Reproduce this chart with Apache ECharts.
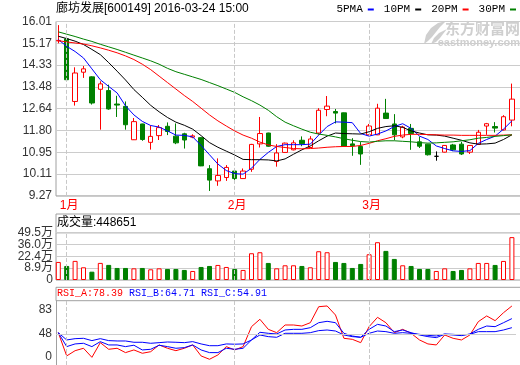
<!DOCTYPE html>
<html><head><meta charset="utf-8">
<script src="https://cdn.jsdelivr.net/npm/echarts@6/dist/echarts.min.js"></script>
<style>html,body{margin:0;padding:0;background:#fff}#c{width:520px;height:365px}</style>
</head><body><div id="c"></div>
<script>
const categories = ['2015-12-31',
 '2016-01-04','2016-01-05','2016-01-06','2016-01-07','2016-01-08','2016-01-11','2016-01-12','2016-01-13','2016-01-14','2016-01-15',
 '2016-01-18','2016-01-19','2016-01-20','2016-01-21','2016-01-22','2016-01-25','2016-01-26','2016-01-27','2016-01-28','2016-01-29',
 '2016-02-01','2016-02-02','2016-02-03','2016-02-04','2016-02-05','2016-02-15','2016-02-16','2016-02-17','2016-02-18','2016-02-19',
 '2016-02-22','2016-02-23','2016-02-24','2016-02-25','2016-02-26','2016-02-29',
 '2016-03-01','2016-03-02','2016-03-03','2016-03-04','2016-03-07','2016-03-08','2016-03-09','2016-03-10','2016-03-11',
 '2016-03-14','2016-03-15','2016-03-16','2016-03-17','2016-03-18','2016-03-21','2016-03-22','2016-03-23','2016-03-24'];
const monthLabels = {'2016-01-04':'1月','2016-02-01':'2月','2016-03-01':'3月'};
const open  = [15.26,15.34,12.92,14.05,13.87,13.39,13.34,12.82,12.73,11.44,12.05,11.34,11.60,11.96,11.58,11.67,11.54,11.52,10.32,9.85,9.98,10.23,9.94,10.30,11.28,11.70,10.60,10.95,11.05,11.42,11.14,11.70,12.61,12.53,12.48,11.28,11.18,11.63,11.63,12.47,12.05,11.55,11.88,11.36,11.27,10.80,10.96,11.24,11.27,10.96,11.26,11.97,11.95,11.82,12.20];
const close = [15.28,13.76,14.02,14.18,12.86,13.60,12.63,12.78,12.02,12.14,11.45,11.57,11.91,11.76,11.32,11.43,11.59,10.43,9.88,10.06,10.37,9.94,10.23,11.26,11.68,11.19,10.93,11.31,11.32,11.29,11.47,12.58,12.74,12.47,11.19,11.21,10.89,11.97,12.66,12.26,11.63,11.93,11.68,11.19,10.86,10.80,11.22,11.05,10.89,11.22,11.73,12.06,11.89,12.33,13.01];
const low   = [15.17,13.74,12.76,13.83,12.80,11.83,12.60,12.32,11.83,11.43,11.40,11.06,11.43,11.62,11.27,11.10,11.50,10.42,9.46,9.66,9.85,9.81,9.93,10.20,11.14,11.17,10.40,10.94,11.03,11.19,11.13,11.64,12.35,12.07,11.18,10.82,10.47,11.62,11.62,12.25,11.42,11.50,11.05,11.12,10.83,10.63,10.95,11.00,10.85,10.89,11.25,11.63,11.72,11.80,11.96];
const high  = [15.87,15.36,14.24,14.29,13.89,13.70,13.57,13.14,12.92,12.28,12.06,11.99,12.01,12.11,12.07,11.71,11.65,11.54,10.46,10.72,10.46,10.29,10.33,11.28,12.32,11.71,11.27,11.33,11.42,11.57,11.58,12.66,13.13,12.63,12.49,11.50,11.35,12.05,12.83,13.02,12.43,11.98,12.05,11.56,11.28,10.99,11.23,11.28,11.36,11.23,11.82,12.09,12.12,12.39,13.61];
const ma5  = [15.31,15.05,14.85,14.60,14.18,13.76,13.50,13.25,12.75,12.40,12.15,11.99,11.93,11.78,11.62,11.61,11.55,11.22,10.86,10.50,10.25,10.13,10.11,10.34,10.68,10.95,11.18,11.25,11.25,11.25,11.27,11.62,11.95,12.13,12.12,12.10,11.68,11.58,11.66,11.78,11.95,12.06,11.88,11.58,11.45,11.20,11.10,11.01,10.99,11.02,11.30,11.45,11.58,11.85,12.17];
const ma10 = [15.44,15.35,15.25,15.12,14.93,14.73,14.42,14.09,13.75,13.38,13.08,12.77,12.52,12.30,12.12,12.00,11.85,11.60,11.33,11.15,11.00,10.85,10.68,10.67,10.67,10.66,10.62,10.70,10.88,11.05,11.20,11.40,11.58,11.70,11.68,11.67,11.66,11.75,11.88,11.95,11.98,11.92,11.78,11.70,11.63,11.62,11.58,11.50,11.42,11.32,11.27,11.28,11.31,11.45,11.63];
const ma20 = [15.27,15.22,15.18,15.14,15.07,14.99,14.90,14.80,14.68,14.54,14.36,14.15,13.90,13.65,13.40,13.15,12.92,12.66,12.40,12.17,11.97,11.78,11.62,11.50,11.35,11.24,11.18,11.14,11.10,11.09,11.10,11.12,11.15,11.17,11.18,11.18,11.22,11.30,11.40,11.48,11.57,11.62,11.65,11.65,11.64,11.63,11.62,11.62,11.61,11.61,11.61,11.61,11.61,11.62,11.63];
const ma30 = [15.61,15.52,15.43,15.33,15.24,15.13,15.03,14.93,14.82,14.71,14.60,14.49,14.36,14.20,14.07,13.97,13.87,13.77,13.65,13.53,13.40,13.27,13.10,12.95,12.78,12.58,12.33,12.12,11.98,11.85,11.73,11.66,11.61,11.55,11.48,11.42,11.37,11.35,11.38,11.40,11.40,11.38,11.36,11.33,11.31,11.32,11.34,11.36,11.40,11.44,11.50,11.53,11.57,11.60,11.63];
const volume = [18.9,14.7,20.0,13.3,8.7,17.9,15.8,12.6,12.6,12.2,12.6,11.2,12.2,11.55,11.55,10.5,9.45,13.65,14.7,15.75,13.65,11.55,10.5,28.0,29.05,17.85,12.2,15.4,15.4,14.7,13.3,30.1,29.05,18.9,17.85,12.6,16.8,26.95,39.55,30.45,22.05,15.4,14.7,11.55,11.55,9.45,12.2,9.45,10.5,12.2,17.85,17.85,15.75,19.95,44.8651];
const rsiA = [49.5,24.3,30.0,32.6,22.8,38.7,31.5,32.6,27.9,30.8,27.2,28.9,36.2,32.6,30.0,32.6,36.2,24.3,20.7,25.4,34.4,30.8,34.4,56.0,64.0,53.1,49.5,57.8,57.8,56.7,60.3,77.6,78.4,68.6,43.4,42.3,38.7,56.0,66.1,60.3,49.5,53.1,48.8,41.6,37.3,36.2,47.0,43.4,41.6,47.0,61.4,67.6,62.5,71.1,78.39];
const rsiB = [49.5,34.4,37.3,38.0,34.4,39.8,36.2,36.2,34.4,35.9,30.8,31.5,35.9,34.4,32.6,33.3,36.2,30.8,27.9,27.9,32.6,31.5,32.6,41.6,49.9,48.8,48.1,52.4,53.1,53.1,54.9,60.3,61.8,60.3,48.8,45.9,44.5,53.1,58.5,56.7,50.6,52.4,49.5,47.0,45.2,44.1,47.7,47.0,46.3,48.1,53.1,56.7,56.0,60.3,64.71];
const rsiC = [49.5,41.6,43.0,43.4,40.9,43.0,40.9,40.5,40.5,39.1,39.1,38.0,38.7,39.4,39.1,38.7,39.8,37.3,35.4,35.4,37.3,37.0,37.3,41.6,47.0,45.2,44.5,48.8,48.8,48.8,49.5,51.7,52.4,51.3,47.0,45.2,44.5,48.8,51.3,50.6,48.8,49.5,48.8,47.7,46.6,45.9,48.1,47.7,47.0,47.7,50.6,50.6,50.6,52.4,54.91];
const priceTicks = ['9.27','10.11','10.95','11.80','12.64','13.48','14.33','15.17','16.01'];
const volumeTicks = ['0','8.9万','22.4万','36.0万','49.5万'];
const rsiTicks = ['0','48','83'];
const maNames = ['5PMA','10PM','20PM','30PM'];

const FONT = '"Liberation Sans", Arial, "Noto Sans CJK SC", sans-serif';
const MONO = '"Liberation Mono", "DejaVu Sans Mono", monospace';
const RED = '#ff0000', GREEN = '#008000', BLUE = '#0000ff';
const GRIDC = '#cccccc', BORDER = '#a0a0a0', MARK = '#cfcfcf';
const CL = 54.1, CW = 462;
const PRICE_MIN = 9.27, PRICE_MAX = 16.01;
const RSI_MIN = 14.5, RSI_MAX = 84.1;

const last = categories.length - 1;
const monthLine = {
  silent: true, symbol: 'none', label: {show: false},
  lineStyle: {type: 'dashed', color: '#c8c8c8', width: 1},
  data: Object.keys(monthLabels).map(d => ({xAxis: d}))
};
const hiddenX = (g, type) => ({gridIndex: g, type: type || 'value', show: false, min: 0, max: 1});
const G = o => Object.assign({outerBoundsMode: 'none', containLabel: false}, o);

const chart = echarts.init(document.getElementById('c'), null, {renderer: 'canvas'});
chart.setOption({
  animation: false,
  backgroundColor: '#fff',
  textStyle: {fontFamily: FONT},
  graphic: [
    {type: 'polygon', z: 0, silent: true,
     shape: {points: [[424, 44], [426, 35], [431, 28], [438, 23], [446, 21], [440, 27], [436, 32], [432, 37], [428, 41]]},
     style: {fill: MARK}},
    {type: 'polygon', z: 0, silent: true,
     shape: {points: [[431, 44], [434, 38], [439, 33], [447, 29], [443, 34], [440, 38], [436, 42]]},
     style: {fill: MARK}}
  ],
  title: [
    {text: '廊坊发展[600149] 2016-03-24 15:00', left: 56, top: 3, padding: 0,
     textStyle: {fontSize: 12, fontWeight: 'normal', color: '#000', fontFamily: FONT}},
    {text: '成交量:' + Math.round(volume[last] * 10000), left: 57, top: 216.5, padding: 0,
     textStyle: {fontSize: 12, fontWeight: 'normal', color: '#000', fontFamily: FONT}},
    {text: '{a|RSI_A:' + rsiA[last].toFixed(2) + '} {b|RSI_B:' + rsiB[last].toFixed(2) + '} {b|RSI_C:' + rsiC[last].toFixed(2) + '}',
     left: 57, top: 288.5, padding: 0,
     textStyle: {fontSize: 10, fontWeight: 'normal', fontFamily: MONO,
       rich: {a: {color: RED, fontSize: 10, fontFamily: MONO}, b: {color: BLUE, fontSize: 10, fontFamily: MONO}}}},
    {text: '东方财富网', right: 0, top: 21, padding: 0, z: 0,
     textStyle: {fontSize: 15, fontWeight: 'bold', color: MARK, fontFamily: '"Noto Sans CJK SC", sans-serif'}},
    {text: 'eastmoney.com', right: 0, top: 37, padding: 0, z: 0,
     textStyle: {fontSize: 11, fontWeight: 'bold', color: MARK, fontFamily: FONT}}
  ],
  legend: {
    data: maNames, right: 4, top: 4, padding: 0, align: 'right', icon: 'rect',
    itemWidth: 6, itemHeight: 2, itemGap: 10,
    textStyle: {fontFamily: MONO, fontSize: 11, color: '#000'}
  },
  grid: [
    G({left: 56, width: 470, top: 21.5, height: 174.4, show: true, borderColor: BORDER, borderWidth: 1}),
    G({left: CL, width: CW, top: 21.5, height: 174.4}),
    G({left: 56, width: 470, top: 214, height: 18.7, show: true, borderColor: BORDER, borderWidth: 1}),
    G({left: 56, width: 470, top: 232.7, height: 47.3, show: true, borderColor: BORDER, borderWidth: 1}),
    G({left: CL, width: CW, top: 232.7, height: 47.3}),
    G({left: 56, width: 470, top: 287.3, height: 13.4, show: true, borderColor: BORDER, borderWidth: 1}),
    G({left: 56, width: 460, top: 300.7, height: 64.3}),
    G({left: CL, width: CW, top: 300.7, height: 64.3}),
    G({left: 56, width: 460, top: 310, height: 46.7})
  ],
  xAxis: [
    hiddenX(0),
    {gridIndex: 1, type: 'category', data: categories, boundaryGap: true,
     axisLine: {show: false}, axisTick: {show: false}, splitLine: {show: false},
     axisLabel: {interval: (idx, val) => monthLabels[val] !== undefined, formatter: val => monthLabels[val] || '',
       color: RED, fontSize: 12, margin: 4, padding: [0, 0, 0, 5], fontFamily: FONT}},
    hiddenX(2), hiddenX(3),
    {gridIndex: 4, type: 'category', data: categories, boundaryGap: true, show: false},
    hiddenX(5), hiddenX(6),
    {gridIndex: 7, type: 'category', data: categories, boundaryGap: true, show: false},
    hiddenX(8)
  ],
  yAxis: [
    {gridIndex: 0, type: 'value', min: 0, max: priceTicks.length - 1, interval: 1,
     axisLine: {show: false}, axisTick: {show: false},
     axisLabel: {formatter: v => priceTicks[v], color: '#333', fontSize: 12, margin: 4, fontFamily: FONT},
     splitLine: {lineStyle: {color: GRIDC, width: 1}}},
    {gridIndex: 1, type: 'value', min: PRICE_MIN, max: PRICE_MAX, show: false},
    {gridIndex: 2, type: 'value', show: false, min: 0, max: 1},
    {gridIndex: 3, type: 'value', min: 0, max: volumeTicks.length - 1, interval: 1,
     axisLine: {show: false}, axisTick: {show: false},
     axisLabel: {formatter: v => volumeTicks[v], color: '#333', fontSize: 12, margin: 3, fontFamily: FONT},
     splitLine: {lineStyle: {color: GRIDC, width: 1}}},
    {gridIndex: 4, type: 'value', min: 0, max: 49.5, show: false},
    {gridIndex: 5, type: 'value', show: false, min: 0, max: 1},
    {gridIndex: 6, type: 'value', min: RSI_MIN, max: RSI_MAX,
     axisLine: {show: true, lineStyle: {color: BORDER, width: 1}}, axisTick: {show: false},
     axisLabel: {show: false}, splitLine: {show: false}},
    {gridIndex: 7, type: 'value', min: RSI_MIN, max: RSI_MAX, show: false},
    {gridIndex: 8, type: 'value', min: 0, max: rsiTicks.length - 1, interval: 1,
     axisLine: {show: false}, axisTick: {show: false}, splitLine: {show: false},
     axisLabel: {formatter: v => rsiTicks[v], showMinLabel: true, showMaxLabel: true,
       color: '#333', fontSize: 12, margin: 4, fontFamily: FONT}}
  ],
  series: [
    {type: 'line', xAxisIndex: 6, yAxisIndex: 6, data: [], z: 1, silent: true,
     markLine: {silent: true, symbol: 'none', label: {show: false}, lineStyle: {type: 'solid', color: GRIDC, width: 1},
       data: [{yAxis: 48}]}},
    {type: 'candlestick', xAxisIndex: 1, yAxisIndex: 1, barWidth: 5,
     data: categories.map((d, i) => [open[i], close[i], low[i], high[i]]),
     itemStyle: {color: '#fff', color0: GREEN, borderColor: RED, borderColor0: GREEN, borderColorDoji: '#000', borderWidth: 1},
     markLine: monthLine},
    {name: maNames[0], type: 'line', xAxisIndex: 1, yAxisIndex: 1, data: ma5, symbol: 'none', color: BLUE, lineStyle: {width: 1, color: BLUE}},
    {name: maNames[1], type: 'line', xAxisIndex: 1, yAxisIndex: 1, data: ma10, symbol: 'none', color: '#000', lineStyle: {width: 1, color: '#000'}},
    {name: maNames[2], type: 'line', xAxisIndex: 1, yAxisIndex: 1, data: ma20, symbol: 'none', color: RED, lineStyle: {width: 1, color: RED}},
    {name: maNames[3], type: 'line', xAxisIndex: 1, yAxisIndex: 1, data: ma30, symbol: 'none', color: GREEN, lineStyle: {width: 1, color: GREEN}},
    {type: 'bar', xAxisIndex: 4, yAxisIndex: 4, barWidth: 5,
     data: volume.map((v, i) => ({value: v, itemStyle: close[i] >= open[i]
       ? {color: '#fff', borderColor: RED, borderWidth: 1}
       : {color: GREEN, borderColor: GREEN, borderWidth: 1}})),
     markLine: monthLine},
    {type: 'line', xAxisIndex: 7, yAxisIndex: 7, data: rsiA, symbol: 'none', lineStyle: {width: 1, color: RED}, markLine: monthLine},
    {type: 'line', xAxisIndex: 7, yAxisIndex: 7, data: rsiB, symbol: 'none', lineStyle: {width: 1, color: BLUE}},
    {type: 'line', xAxisIndex: 7, yAxisIndex: 7, data: rsiC, symbol: 'none', lineStyle: {width: 1, color: BLUE}}
  ]
});
</script></body></html>
